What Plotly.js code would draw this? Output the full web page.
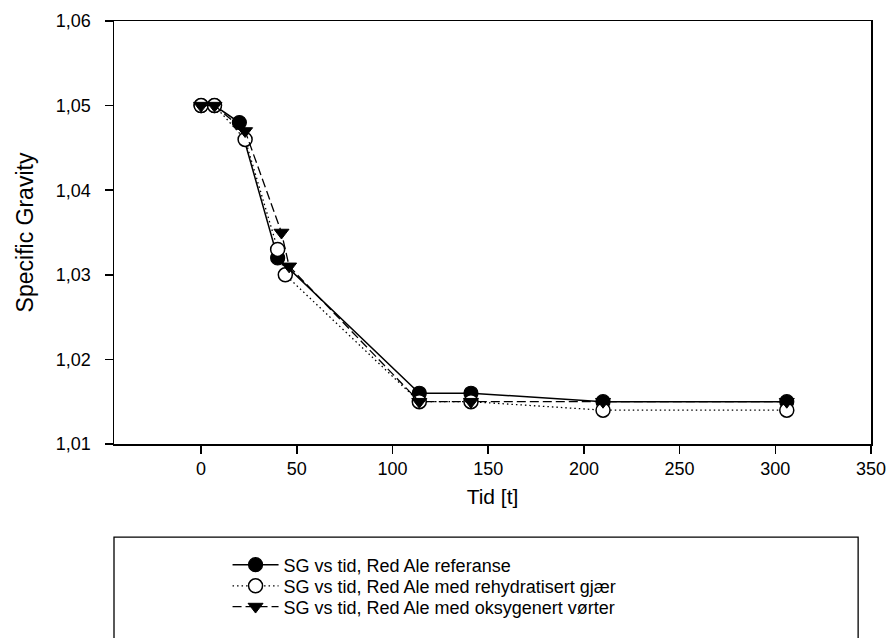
<!DOCTYPE html>
<html>
<head>
<meta charset="utf-8">
<script src="https://cdn.plot.ly/plotly-3.0.1.min.js"></script>
<style>
  html, body { margin: 0; padding: 0; background: #fff; }
  #chart { width: 893px; height: 638px; }
</style>
</head>
<body>
<div id="chart"></div>
<script>
// Fermentation time [h] and specific gravity for three Red Ale batches
var tidReferanse = [0, 7, 20, 40, 114, 141, 210, 306];
var sgReferanse  = [1.050, 1.050, 1.048, 1.032, 1.016, 1.016, 1.015, 1.015];

var tidRehydrert = [0, 7, 23, 40, 44, 114, 141, 210, 306];
var sgRehydrert  = [1.050, 1.050, 1.046, 1.033, 1.030, 1.015, 1.015, 1.014, 1.014];

var tidOksygen = [0, 7, 23, 42, 46, 114, 141, 210, 306];
var sgOksygen  = [1.050, 1.050, 1.047, 1.035, 1.031, 1.015, 1.015, 1.015, 1.015];

var seriesNames = [
  'SG vs tid, Red Ale referanse',
  'SG vs tid, Red Ale med rehydratisert gjær',
  'SG vs tid, Red Ale med oksygenert vørter'
];

var xTicks = [0, 50, 100, 150, 200, 250, 300, 350];
var yTicks = [1.01, 1.02, 1.03, 1.04, 1.05, 1.06];

var FONT = 'Liberation Sans, Arial, sans-serif';

var traces = [
  {
    x: tidReferanse, y: sgReferanse, name: seriesNames[0],
    mode: 'lines+markers', type: 'scatter', legend: 'legend',
    line: { color: '#000', width: 1.5 },
    marker: { symbol: 'circle', size: 14, color: '#000', line: { color: '#000', width: 1.2 } }
  },
  {
    x: tidRehydrert, y: sgRehydrert, name: seriesNames[1],
    mode: 'lines+markers', type: 'scatter', legend: 'legend2',
    line: { color: '#000', width: 1.3, dash: '1.5px,3px' },
    marker: { symbol: 'circle', size: 14, color: '#fff', line: { color: '#000', width: 1.5 } }
  },
  {
    x: tidOksygen, y: sgOksygen, name: seriesNames[2],
    mode: 'lines+markers', type: 'scatter', legend: 'legend3',
    line: { color: '#000', width: 1.3, dash: '9px,4px' },
    marker: { symbol: 'triangle-down', size: 13, color: '#000', line: { color: '#000', width: 1 } }
  }
];

// One legend per series so each row can be placed at its own height
function legendRow(yCenter) {
  return {
    x: 0.15, xanchor: 'left',
    y: yCenter, yanchor: 'middle',
    bgcolor: 'rgba(0,0,0,0)',
    borderwidth: 0,
    font: { family: FONT, size: 18, color: '#000' },
    itemwidth: 46
  };
}

var layout = {
  width: 893, height: 638,
  margin: { l: 114, r: 22, t: 21, b: 194, autoexpand: false },
  paper_bgcolor: '#fff', plot_bgcolor: '#fff',
  separators: ',.',
  font: { family: FONT, size: 18, color: '#000' },
  showlegend: true,
  xaxis: {
    range: [-45.5, 350],
    tickvals: xTicks,
    ticks: 'outside', ticklen: 8, tickwidth: 1.5, tickcolor: '#000',
    showline: true, linecolor: '#000', linewidth: 1.5, mirror: true,
    showgrid: false, zeroline: false,
    tickfont: { family: FONT, size: 18 },
    title: { text: 'Tid [t]', font: { family: FONT, size: 21 }, standoff: 11 }
  },
  yaxis: {
    range: [1.01, 1.06],
    tickvals: yTicks,
    tickformat: '.2f',
    ticks: 'outside', ticklen: 8, tickwidth: 1.5, tickcolor: '#000',
    showline: true, linecolor: '#000', linewidth: 1.5, mirror: true,
    showgrid: false, zeroline: false,
    tickfont: { family: FONT, size: 18 },
    ticklabelstandoff: 10,
    title: { text: 'Specific Gravity', font: { family: FONT, size: 23 }, standoff: 16 }
  },
  legend: legendRow(-0.286),
  legend2: legendRow(-0.336),
  legend3: legendRow(-0.385),
  shapes: [
    {
      type: 'rect', xref: 'paper', yref: 'paper',
      x0: 0, x1: 0.983, y0: -0.6, y1: -0.22,
      line: { color: '#000', width: 1.3 },
      fillcolor: 'rgba(0,0,0,0)'
    }
  ]
};

Plotly.newPlot('chart', traces, layout, { staticPlot: true, displayModeBar: false });
</script>
</body>
</html>
